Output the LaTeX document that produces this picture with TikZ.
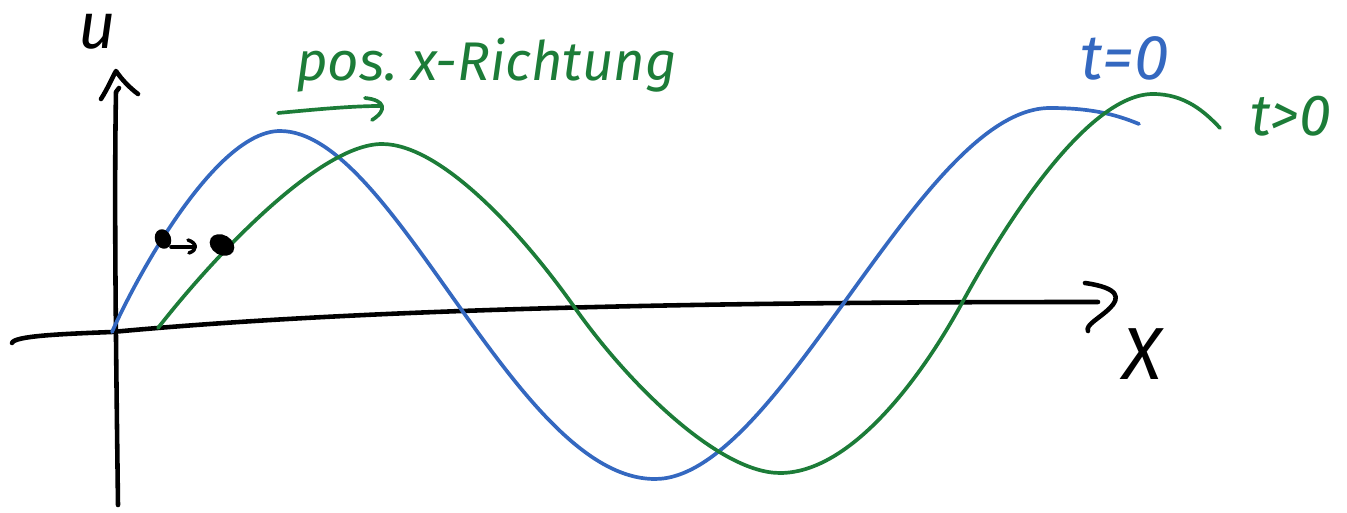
\documentclass[tikz,border=0pt]{standalone}
\usepackage{fontspec}
\setmainfont{Fira Sans}
\definecolor{wblue}{RGB}{52,104,192}
\definecolor{wgreen}{RGB}{28,124,56}
\tikzset{
  axis/.style={black,line width=2.6pt,line cap=round,line join=round},
  wave/.style={line width=2.1pt,line cap=round,line join=round},
  hand/.style={inner sep=0pt,font=\itshape},
}
\begin{document}
\begin{tikzpicture}[x=0.02cm,y=-0.02cm]
\useasboundingbox (0,0) rectangle (1347,513);
% axes
\draw[axis] (118,505) .. controls (116,350) and (114,200) .. (116,92) -- (119,88);
\draw[axis] (101,99) .. controls (108,88) and (112,78) .. (116,71) .. controls (122,80) and (130,88) .. (138,94);
\draw[axis] (12,343) .. controls (14,336) and (60,334) .. (112,332) .. controls (400,305) and (800,302) .. (1098,302);
\draw[axis] (1085,283) .. controls (1120,288) and (1120,298) .. (1110,308) .. controls (1100,318) and (1085,325) .. (1088,331);
\node[hand,anchor=base,font=\fontsize{37}{37}\selectfont\itshape] (ulab) at (97,49) {u};
\node[hand,anchor=base,font=\fontsize{42}{42}\selectfont\itshape] (xlab) at (1142,380) {X};
% blue wave t=0
\draw[wave,wblue] (112,332) .. controls (135,280) and (215,131) .. (280,131)
  .. controls (395,131) and (515,479) .. (655,479)
  .. controls (780,479) and (920,108) .. (1050,108)
  .. controls (1090,108) and (1115,114) .. (1139,124);
% green wave t>0
\draw[wave,wgreen] (158,328) .. controls (215,255) and (320,144) .. (382,144)
  .. controls (440,144) and (520,230) .. (575,308)
  .. controls (630,386) and (720,473) .. (780,473)
  .. controls (850,473) and (920,380) .. (962,303)
  .. controls (1010,215) and (1090,94) .. (1153,94)
  .. controls (1185,94) and (1205,112) .. (1220,128);
% direction arrow
\coordinate (a1) at (278,113);
\coordinate (a2) at (380,106);
\draw[wave,wgreen] (a1) .. controls (310,110) and (350,106) .. (a2);
\draw[wave,wgreen] (365,98) .. controls (385,100) and (388,110) .. (372,120);
\node[hand,anchor=base west,text=wgreen,font=\fontsize{31}{31}\selectfont\itshape] (dir) at (296,81) {pos.\ x-Richtung};
\node[hand,anchor=base west,text=wblue,font=\fontsize{36}{36}\selectfont\itshape] (t0) at (1080,80) {t=0};
\node[hand,anchor=base west,text=wgreen,font=\fontsize{33}{33}\selectfont\itshape] (t1) at (1250,136) {t>0};
% dots
\fill[black,rotate around={-70:(163,239)}] (163,239) ellipse [x radius=10,y radius=8];
\fill[black,rotate around={-30:(222,245)}] (222,245) ellipse [x radius=13,y radius=10];
\draw[axis,line width=2pt] (171,247) -- (195,247);
\draw[axis,line width=2pt] (188,240) .. controls (197,243) and (198,250) .. (189,253);
\end{tikzpicture}
\end{document}
